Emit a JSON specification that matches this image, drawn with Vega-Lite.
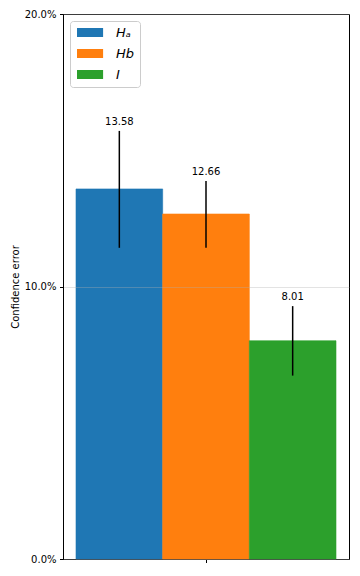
{
  "$schema": "https://vega.github.io/schema/vega-lite/v6.json",
  "width": 286,
  "height": 545,
  "autosize": {"type": "none"},
  "padding": {"left": 63, "top": 14, "right": 11, "bottom": 17},
  "background": "white",
  "config": {
    "view": {"stroke": "#000", "strokeWidth": 1},
    "font": "DejaVu Sans",
    "axis": {
      "domainColor": "#000",
      "tickColor": "#000",
      "labelColor": "#000",
      "titleColor": "#000",
      "labelFont": "DejaVu Sans",
      "titleFont": "DejaVu Sans",
      "labelFontSize": 10,
      "titleFontSize": 10,
      "titleFontWeight": "normal",
      "tickSize": 3.5,
      "labelPadding": 3.5
    }
  },
  "data": {
    "values": [
      {"series": "Hₐ", "value": 13.58, "lo": 11.42, "hi": 15.71},
      {"series": "Hb", "value": 12.66, "lo": 11.42, "hi": 13.87},
      {"series": "I", "value": 8.01, "lo": 6.73, "hi": 9.28}
    ]
  },
  "encoding": {
    "x": {
      "field": "series",
      "type": "nominal",
      "sort": ["Hₐ", "Hb", "I"],
      "scale": {"paddingInner": 0, "paddingOuter": 0.15},
      "axis": {"title": null, "labels": false, "values": ["Hb"], "grid": false}
    }
  },
  "layer": [
    {
      "mark": {"type": "bar", "strokeWidth": 0.6},
      "encoding": {
        "y": {
          "field": "value",
          "type": "quantitative",
          "scale": {"domain": [0, 20], "nice": false},
          "axis": {
            "title": "Confidence error",
            "values": [0, 10, 20],
            "labelExpr": "format(datum.value, '.1f') + '%'",
            "grid": true,
            "gridColor": "#b0b0b0",
            "gridOpacity": 0.35,
            "gridWidth": 1,
            "zindex": 1
          }
        },
        "color": {
          "field": "series",
          "type": "nominal",
          "sort": ["Hₐ", "Hb", "I"],
          "scale": {"domain": ["Hₐ", "Hb", "I"], "range": ["#1f77b4", "#ff7f0e", "#2ca02c"]},
          "legend": {
            "title": null,
            "orient": "top-left",
            "offset": 7,
            "padding": 5,
            "fillColor": "white",
            "strokeColor": "#cccccc",
            "cornerRadius": 3,
            "symbolType": "M-1,-1H4.8V1H-1Z",
            "symbolSize": 81,
            "symbolStrokeWidth": 0,
            "symbolOpacity": 1,
            "labelOffset": 28,
            "labelFont": "DejaVu Sans",
            "labelFontStyle": "italic",
            "labelFontSize": 13,
            "labelColor": "#000",
            "rowPadding": 7
          }
        },
        "stroke": {
          "field": "series",
          "type": "nominal",
          "scale": {"domain": ["Hₐ", "Hb", "I"], "range": ["#1f77b4", "#ff7f0e", "#2ca02c"]},
          "legend": null
        }
      }
    },
    {
      "mark": {"type": "rule", "color": "#000", "strokeWidth": 1.5},
      "encoding": {
        "y": {"field": "lo", "type": "quantitative"},
        "y2": {"field": "hi"}
      }
    },
    {
      "mark": {"type": "text", "baseline": "bottom", "dy": -4, "fontSize": 10, "font": "DejaVu Sans", "color": "#000"},
      "encoding": {
        "y": {"field": "hi", "type": "quantitative"},
        "text": {"field": "value", "type": "quantitative", "format": ".2f"}
      }
    }
  ]
}
